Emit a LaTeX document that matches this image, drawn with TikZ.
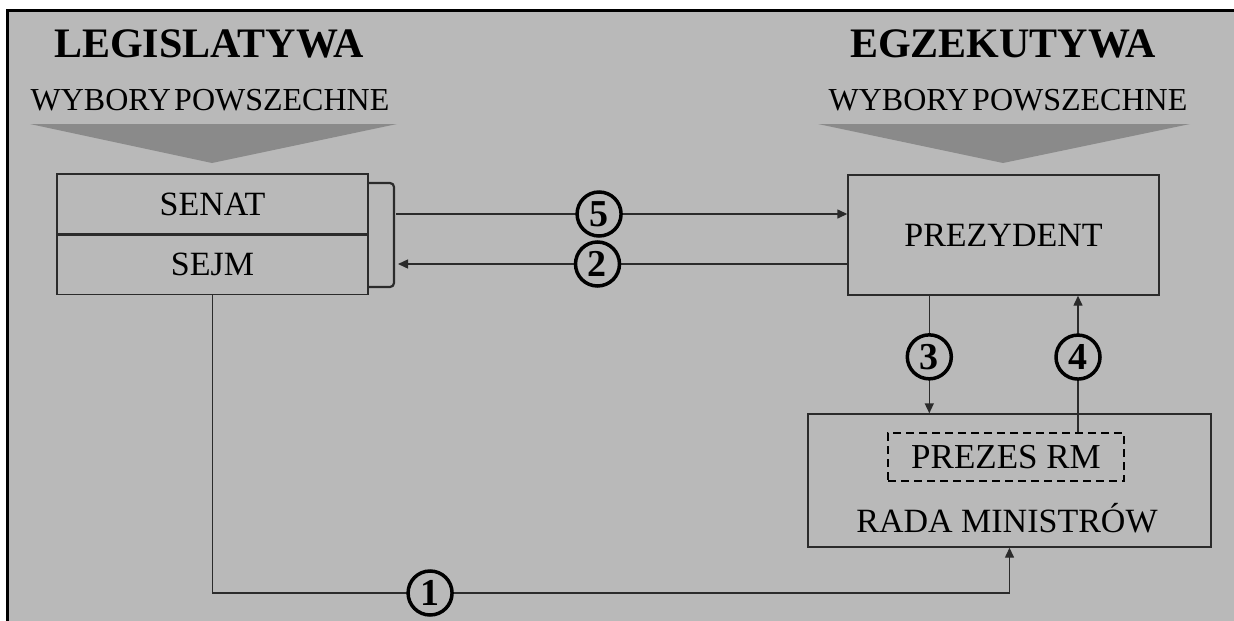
\documentclass[tikz,border=0pt]{standalone}
\usepackage{fontspec}
\setmainfont{Liberation Serif}
\usetikzlibrary{arrows.meta, positioning, calc}
\definecolor{panel}{HTML}{B9B9B9}
\definecolor{chevron}{HTML}{8A8A8A}
\definecolor{ink}{HTML}{2B2B2B}

\begin{document}
\begin{tikzpicture}[x=1pt, y=-1pt,
  box/.style={draw=ink, line width=1.4pt, inner sep=0pt, text=black, font=\fontsize{34}{34}\selectfont},
  num/.style={circle, draw=black, line width=3.5pt, minimum size=44pt, inner sep=0pt,
              fill=panel, text=black, font=\fontsize{38}{38}\selectfont\bfseries},
  arr/.style={-{Triangle[length=10pt, width=9pt]}, line width=1.4pt, color=ink},
  head/.style={font=\fontsize{42}{42}\selectfont\bfseries},
  vote/.style={font=\fontsize{32}{32}\selectfont}
]
% background and frame
\useasboundingbox (0,0) rectangle (1234,621);
\fill[white] (0,0) rectangle (1234,621);
\fill[panel] (9,12) rectangle (1234,621);
\draw[line width=3pt] (7.5,621) -- (7.5,10.5) -- (1234,10.5);

% headings and election chevrons
\node[head] (leg) at (209,43.5) {LEGISLATYWA};
\node[head] (egz) at (1003,43.5) {EGZEKUTYWA};
\node[vote] (vleg) at (210,100) {WYBORY\hspace{0.1em}POWSZECHNE};
\node[vote] (vegz) at (1008,100) {WYBORY\hspace{0.1em}POWSZECHNE};
\fill[chevron] (30,124) -- (397,124) -- (212,163) -- cycle;
\fill[chevron] (818,124) -- (1190,124) -- (1003,163) -- cycle;

% parliament
\node[box, minimum width=311pt, minimum height=60pt] (senat) at (212.5,204) {SENAT};
\node[box, minimum width=311pt, minimum height=59pt, below=0pt of senat] (sejm) {SEJM};
\draw[ink, line width=2.2pt, rounded corners=4pt] (368,183) -- (394,183) -- (394,287) -- (368,287);
\coordinate (b5) at (396,214);
\coordinate (b2) at (398,264);

% executive
\node[box, minimum width=311pt, minimum height=120pt] (prez) at (1003.5,235) {PREZYDENT};
\node[box, minimum width=403pt, minimum height=133pt] (rada) at (1009.5,480.5) {};
\node[box, draw=black, dash pattern=on 8pt off 5pt, line width=1.8pt, minimum width=236pt, minimum height=48pt,
      font=\fontsize{35}{35}\selectfont] (prezes) at (1006,457) {PREZES RM};
\node[font=\fontsize{34}{34}\selectfont] (radatxt) at (1007,518) {RADA MINISTRÓW};

% connectors
\draw[arr] (b5) -- node[num, pos=0.45] {5} (prez.west |- b5);
\draw[arr] (prez.west |- b2) -- node[num, pos=0.556] {2} (b2);
\draw[arr] (prez.south west) ++(82,0) coordinate (p3) -- node[num, pos=0.52] {3} (p3 |- rada.north);
\draw[arr] (prezes.north) ++(72,0) coordinate (p4) -- node[num, pos=0.55] {4} (p4 |- prez.south);
\coordinate (c1) at (212.5,593);
\draw[arr] (sejm.south) -- (c1) -- node[num, pos=0.273] {1} (c1 -| rada.south) -- (rada.south);
\end{tikzpicture}
\end{document}
